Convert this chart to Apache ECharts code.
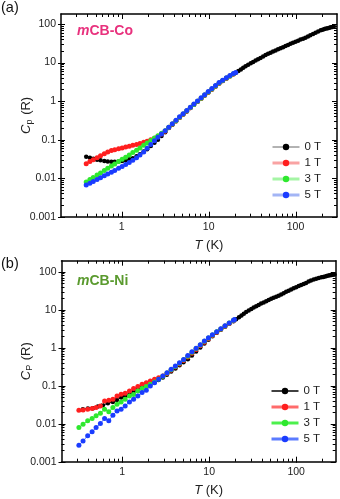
<!DOCTYPE html>
<html><head><meta charset="utf-8">
<script src="https://cdn.jsdelivr.net/npm/echarts@6/dist/echarts.min.js"></script>
<style>html,body{margin:0;padding:0;background:#fff}#c{width:340px;height:499px}</style>
</head><body><div id="c"></div>
<script>
// ---------- DATA (T in K, Cp in R) ----------
const seriesNames = ['0 T', '1 T', '3 T', '5 T'];

// (a) mCB-Co
const co0T = [[0.39,0.036],[0.43,0.034],[0.47,0.032],[0.52,0.030],[0.57,0.029],[0.63,0.028],[0.69,0.027],[0.76,0.0265],[0.83,0.0265],[0.92,0.027],[1.01,0.028],[1.11,0.029],[1.22,0.031],[1.34,0.033],[1.48,0.037],[1.62,0.042],[1.79,0.049],[1.96,0.056],[2.16,0.068],[2.38,0.083],[2.61,0.10],[2.87,0.125],[3.16,0.155],[3.48,0.20],[3.82,0.245],[4.21,0.30],[4.63,0.37],[5.09,0.45],[5.6,0.54],[6.16,0.66],[6.77,0.80],[7.45,0.96],[8.2,1.16],[9.0,1.4],[9.9,1.68],[10.9,2.0],[12.0,2.4],[13.2,2.85],[14.5,3.3],[16.0,3.85],[17.6,4.4],[19.3,5.0],[20.5,5.4],[22,6.0],[23.5,6.6],[25,7.3],[26.6,8.0],[28.5,8.8],[30.5,9.6],[32.5,10.4],[34.7,11.3],[37,12.2],[39.5,13.2],[42.3,14.3],[45.2,15.6],[48.3,16.9],[51.6,18.1],[55.1,19.4],[58.9,20.7],[62.9,22.1],[67.2,23.6],[71.8,25.1],[76.7,26.8],[81.9,28.6],[87.5,30.6],[93.5,32.6],[100,34.7],[107,37.0],[114,39.4],[122,41.5],[130,44],[139,47.5],[148,51.5],[159,55.5],[170,59.4],[182,64],[195,68.5],[205,71.5],[215,74],[225,76],[235,78],[245,80],[255,82],[265,84],[276,86]];
const co1T = [[0.39,0.0235],[0.43,0.027],[0.47,0.030],[0.52,0.034],[0.57,0.038],[0.63,0.043],[0.69,0.048],[0.76,0.052],[0.83,0.055],[0.92,0.058],[1.01,0.061],[1.11,0.064],[1.22,0.067],[1.34,0.071],[1.48,0.075],[1.62,0.079],[1.79,0.085],[1.96,0.091],[2.16,0.099],[2.38,0.109],[2.61,0.122],[2.87,0.14],[3.16,0.165],[3.48,0.205],[3.82,0.25],[4.21,0.305],[4.63,0.375],[5.09,0.455],[5.6,0.55],[6.16,0.67],[6.77,0.81],[7.45,0.97],[8.2,1.17],[9.0,1.41],[9.9,1.7],[10.9,2.03],[12.0,2.43],[13.2,2.9],[14.5,3.35],[16.0,3.9],[17.6,4.45],[19.3,5.05]];
const co3T = [[0.39,0.0080],[0.43,0.0092],[0.47,0.0104],[0.52,0.0120],[0.57,0.0137],[0.63,0.0157],[0.69,0.0180],[0.76,0.0206],[0.83,0.0234],[0.92,0.027],[1.01,0.031],[1.11,0.035],[1.22,0.040],[1.34,0.046],[1.48,0.053],[1.62,0.061],[1.79,0.071],[1.96,0.082],[2.16,0.095],[2.38,0.110],[2.61,0.126],[2.87,0.146],[3.16,0.17],[3.48,0.21],[3.82,0.255],[4.21,0.31],[4.63,0.38],[5.09,0.46],[5.6,0.56],[6.16,0.68],[6.77,0.82],[7.45,0.99],[8.2,1.19],[9.0,1.43],[9.9,1.73],[10.9,2.07],[12.0,2.48],[13.2,2.95],[14.5,3.4],[16.0,3.95],[17.6,4.5],[19.3,5.1]];
const co5T = [[0.39,0.0066],[0.43,0.0074],[0.47,0.0082],[0.52,0.0092],[0.57,0.0103],[0.63,0.0115],[0.69,0.0128],[0.76,0.0143],[0.83,0.0159],[0.92,0.018],[1.01,0.020],[1.11,0.0225],[1.22,0.0255],[1.34,0.029],[1.48,0.034],[1.62,0.040],[1.79,0.048],[1.96,0.060],[2.16,0.075],[2.38,0.093],[2.61,0.115],[2.87,0.14],[3.16,0.17],[3.48,0.21],[3.82,0.26],[4.21,0.32],[4.63,0.39],[5.09,0.47],[5.6,0.57],[6.16,0.69],[6.77,0.84],[7.45,1.01],[8.2,1.22],[9.0,1.47],[9.9,1.77],[10.9,2.12],[12.0,2.55],[13.2,3.03],[14.5,3.5],[16.0,4.05],[17.6,4.6],[19.3,5.2],[20.5,5.5]];

// (b) mCB-Ni
const ni0T = [[0.352,0.024],[0.402,0.025],[0.459,0.0255],[0.524,0.0282],[0.598,0.0306],[0.683,0.0345],[0.78,0.0374],[0.867,0.0422],[0.974,0.0486],[1.08,0.054],[1.21,0.0594],[1.35,0.0685],[1.51,0.0805],[1.68,0.089],[1.89,0.098],[2.10,0.11],[2.35,0.125],[2.61,0.142],[2.93,0.165],[3.26,0.195],[3.65,0.235],[4.09,0.285],[4.56,0.345],[5.06,0.415],[5.68,0.50],[6.33,0.62],[7.07,0.8],[7.9,1.02],[8.8,1.3],[9.8,1.62],[10.9,2.0],[12.2,2.46],[13.6,2.95],[15.2,3.55],[17.0,4.25],[19.0,5.0],[20.4,5.6],[22,6.3],[23.5,7.0],[25,7.8],[26.6,8.7],[28.5,9.6],[30.5,10.5],[32.5,11.4],[34.7,12.4],[37,13.4],[39.5,14.5],[42.3,15.6],[45.2,16.7],[48.3,18.0],[51.6,19.3],[55.1,20.6],[58.9,21.8],[62.9,23.4],[67.2,25.2],[71.8,27.3],[76.7,29.5],[81.9,31.7],[87.5,34],[93.5,36.5],[100,39],[107,41.8],[114,44.5],[122,47.5],[130,50.8],[139,55],[148,59],[159,62.5],[170,65.5],[182,68],[195,71],[205,73],[215,75],[225,77],[235,79],[245,80.5],[255,82],[265,83],[276,84]];
const ni1T = [[0.317,0.0226],[0.354,0.0231],[0.40,0.024],[0.45,0.025],[0.50,0.0266],[0.56,0.0294],[0.626,0.0397],[0.70,0.0414],[0.78,0.044],[0.87,0.054],[0.97,0.0594],[1.08,0.063],[1.21,0.0727],[1.35,0.0838],[1.51,0.0946],[1.69,0.109],[1.89,0.12],[2.10,0.133],[2.35,0.147],[2.62,0.163],[2.93,0.18],[3.27,0.21],[3.65,0.255],[4.08,0.31],[4.55,0.375],[5.08,0.46],[5.67,0.57],[6.33,0.72],[7.07,0.9],[7.9,1.12],[8.8,1.4],[9.8,1.72],[10.9,2.1],[12.2,2.55],[13.6,3.05],[15.2,3.65],[17.0,4.35],[19.0,5.15]];
const ni3T = [[0.317,0.0079],[0.354,0.0097],[0.40,0.0119],[0.45,0.0137],[0.50,0.0161],[0.56,0.0189],[0.626,0.024],[0.70,0.0205],[0.78,0.0266],[0.87,0.0325],[0.97,0.0374],[1.08,0.044],[1.21,0.054],[1.35,0.059],[1.51,0.073],[1.69,0.084],[1.89,0.095],[2.10,0.109],[2.35,0.125],[2.62,0.147],[2.93,0.178],[3.27,0.215],[3.65,0.265],[4.08,0.32],[4.55,0.39],[5.08,0.48],[5.67,0.60],[6.33,0.76],[7.07,0.95],[7.9,1.18],[8.8,1.47],[9.8,1.79],[10.9,2.17],[12.2,2.62],[13.6,3.12],[15.2,3.75],[17.0,4.45],[19.0,5.25]];
const ni5T = [[0.317,0.0027],[0.354,0.0035],[0.40,0.0048],[0.45,0.0061],[0.50,0.0079],[0.56,0.0101],[0.626,0.0137],[0.70,0.0119],[0.78,0.0167],[0.87,0.0217],[0.97,0.024],[1.08,0.0294],[1.21,0.0374],[1.35,0.044],[1.51,0.054],[1.69,0.066],[1.89,0.076],[2.10,0.098],[2.35,0.12],[2.62,0.147],[2.93,0.18],[3.27,0.22],[3.65,0.27],[4.08,0.33],[4.55,0.40],[5.08,0.49],[5.67,0.62],[6.33,0.78],[7.07,0.97],[7.9,1.2],[8.8,1.5],[9.8,1.82],[10.9,2.2],[12.2,2.65],[13.6,3.15],[15.2,3.8],[17.0,4.5],[19.0,5.3],[19.5,5.5]];

// axis tick values
const xMajorTicks = [1, 10, 100];
const xMinorTicks = [0.3,0.4,0.5,0.6,0.7,0.8,0.9,2,3,4,5,6,7,8,9,20,30,40,50,60,70,80,90,200];
const yMajorTicks = [0.001, 0.01, 0.1, 1, 10, 100];
const yMinorTicks = [0.002,0.003,0.004,0.005,0.006,0.007,0.008,0.009,0.02,0.03,0.04,0.05,0.06,0.07,0.08,0.09,0.2,0.3,0.4,0.5,0.6,0.7,0.8,0.9,2,3,4,5,6,7,8,9,20,30,40,50,60,70,80,90];

// ---------- STYLE ----------
const FF = '"Liberation Sans", Arial, sans-serif';
const markerColors = ['#000000', '#ff1f1f', '#2ee82e', '#1a3cff'];
const lineColsA = ['#666666', '#f9a3a3', '#a5f5a5', '#a3b5f5'];
const lineColsB = ['#000000', '#ff6b6b', '#4cf04c', '#5b7bff'];
const grids = [
  {left: 61, top: 14, width: 276, height: 202.7},
  {left: 61.5, top: 260.7, width: 274.2, height: 201}
];

const chart = echarts.init(document.getElementById('c'), null, {renderer: 'canvas'});

function labFmt(v) {
  const l = Math.log10(v);
  if (Math.abs(l - Math.round(l)) > 1e-6) return '';
  return String(+v.toPrecision(3));
}

function xAx(gi, pos, min, max, withLabels) {
  return {
    type: 'log', logBase: 10, gridIndex: gi, position: pos, min: min, max: max,
    axisLine: {show: true, onZero: false, lineStyle: {color: '#000', width: 1.5}},
    axisTick: {show: false}, splitLine: {show: false}, minorTick: {show: false},
    axisLabel: withLabels ? {show: true, formatter: labFmt, margin: 5, fontSize: 10.5, fontFamily: FF, color: '#222'} : {show: false},
    name: withLabels ? '{i|T}{n| (K)}' : '', nameLocation: 'middle', nameGap: 22, nameMoveOverlap: false,
    nameTextStyle: {padding: [0, 0, 0, 20], rich: {i: {fontStyle: 'italic', fontSize: 13, fontFamily: FF, color: '#222'}, n: {fontSize: 13, fontFamily: FF, color: '#222'}}}
  };
}
function yAx(gi, pos, max, withLabels, sub) {
  return {
    type: 'log', logBase: 10, gridIndex: gi, position: pos, min: 0.001, max: max,
    axisLine: {show: true, onZero: false, lineStyle: {color: '#000', width: 1.5}},
    axisTick: {show: false}, splitLine: {show: false}, minorTick: {show: false},
    axisLabel: withLabels ? {show: true, formatter: labFmt, margin: 5, fontSize: 10.5, fontFamily: FF, color: '#222'} : {show: false},
    name: withLabels ? '{c|C}{s|' + sub + '}{r| (R)}' : '', nameLocation: 'middle', nameGap: 27, nameMoveOverlap: false,
    nameTextStyle: {rich: {
      c: {fontStyle: 'italic', fontSize: 13, fontFamily: FF, color: '#222'},
      s: {fontSize: 9, fontFamily: FF, color: '#222', padding: [7, 1, 0, 0]},
      r: {fontSize: 13, fontFamily: FF, color: '#222'}}}
  };
}

function dataSeries(name, data, axIdx, k, lineCols) {
  return {
    type: 'line', name: name, data: data, xAxisIndex: axIdx, yAxisIndex: axIdx,
    symbol: 'circle', symbolSize: k === 0 ? 4.5 : 5, showSymbol: true, showAllSymbol: true,
    itemStyle: {color: markerColors[k]},
    lineStyle: {color: lineCols[k], width: 1},
    emphasis: {disabled: true}, animation: false, z: 2 + k
  };
}

function legendFor(top, left, lineCols, widths) {
  return {
    orient: 'vertical', top: top, left: left, itemWidth: 27, itemHeight: 8, itemGap: 4, padding: 0,
    selectedMode: false,
    textStyle: {fontSize: 11.5, fontFamily: FF, color: '#222'},
    data: seriesNames.map((n, k) => ({name: n, lineStyle: {color: lineCols[k], width: widths[k]}, itemStyle: {color: markerColors[k]}}))
  };
}

const option = {
  animation: false,
  backgroundColor: '#fff',
  title: [
    {text: '(a)', left: 1, top: 0, padding: 0, textStyle: {fontSize: 14.5, fontWeight: 'normal', fontFamily: FF, color: '#111'}},
    {text: '(b)', left: 1, top: 256, padding: 0, textStyle: {fontSize: 14.5, fontWeight: 'normal', fontFamily: FF, color: '#111'}},
    {text: '{i|m}{n|CB-Co}', left: 77, top: 24, padding: 0, textStyle: {rich: {
      i: {fontStyle: 'italic', fontWeight: 'bold', fontSize: 14, fontFamily: FF, color: '#e8317d'},
      n: {fontWeight: 'bold', fontSize: 14, fontFamily: FF, color: '#e8317d'}}}},
    {text: '{i|m}{n|CB-Ni}', left: 77, top: 274, padding: 0, textStyle: {rich: {
      i: {fontStyle: 'italic', fontWeight: 'bold', fontSize: 14, fontFamily: FF, color: '#5a9a2e'},
      n: {fontWeight: 'bold', fontSize: 14, fontFamily: FF, color: '#5a9a2e'}}}}
  ],
  grid: grids,
  xAxis: [
    xAx(0, 'bottom', 0.2, 300, true), xAx(0, 'top', 0.2, 300, false),
    xAx(1, 'bottom', 0.2, 285, true), xAx(1, 'top', 0.2, 285, false)
  ],
  yAxis: [
    yAx(0, 'left', 182, true, 'p'), yAx(0, 'right', 182, false, 'p'),
    yAx(1, 'left', 195, true, 'P'), yAx(1, 'right', 195, false, 'P')
  ],
  legend: [
    legendFor(141, 271, lineColsA, [1, 3, 3, 3]),
    legendFor(385, 270, lineColsB, [1.5, 3, 3, 3])
  ],
  series: [
    dataSeries('0 T', co0T, 0, 0, lineColsA),
    dataSeries('1 T', co1T, 0, 1, lineColsA),
    dataSeries('3 T', co3T, 0, 2, lineColsA),
    dataSeries('5 T', co5T, 0, 3, lineColsA),
    dataSeries('0 T', ni0T, 2, 0, lineColsB),
    dataSeries('1 T', ni1T, 2, 1, lineColsB),
    dataSeries('3 T', ni3T, 2, 2, lineColsB),
    dataSeries('5 T', ni5T, 2, 3, lineColsB)
  ]
};
chart.setOption(option);

// axis ticks (major + log minor) on all four sides, placed via the axes' own scales
const tickEls = [];
grids.forEach((g, gi) => {
  const ai = gi * 2;
  const x0 = g.left, x1 = g.left + g.width, y0 = g.top, y1 = g.top + g.height;
  const L = (a, b, c, d) => tickEls.push({type: 'line', silent: true, z: 50,
    shape: {x1: a, y1: b, x2: c, y2: d}, style: {stroke: '#000', lineWidth: 1}});
  const px = v => chart.convertToPixel({xAxisIndex: ai}, v);
  const py = v => chart.convertToPixel({yAxisIndex: ai}, v);
  xMajorTicks.forEach(v => { const p = Math.round(px(v)) + 0.5; L(p, y1 + 1, p, y1 - 5); L(p, y0, p, y0 + 5); });
  xMinorTicks.forEach(v => { const p = Math.round(px(v)) + 0.5; if (p > x0 + 1 && p < x1 - 1) { L(p, y1, p, y1 - 3); L(p, y0, p, y0 + 3); } });
  yMajorTicks.forEach(v => { const p = Math.round(py(v)) + 0.5; if (p >= y0 - 1 && p <= y1 + 1) { L(x0 - 3, p, x0 + 4, p); L(x1, p, x1 - 5, p); } });
  yMinorTicks.forEach(v => { const p = Math.round(py(v)) + 0.5; if (p > y0 + 1 && p < y1 - 1) { L(x0, p, x0 + 3, p); L(x1, p, x1 - 3, p); } });
});
chart.setOption({graphic: {elements: tickEls}});
</script>
</body></html>
